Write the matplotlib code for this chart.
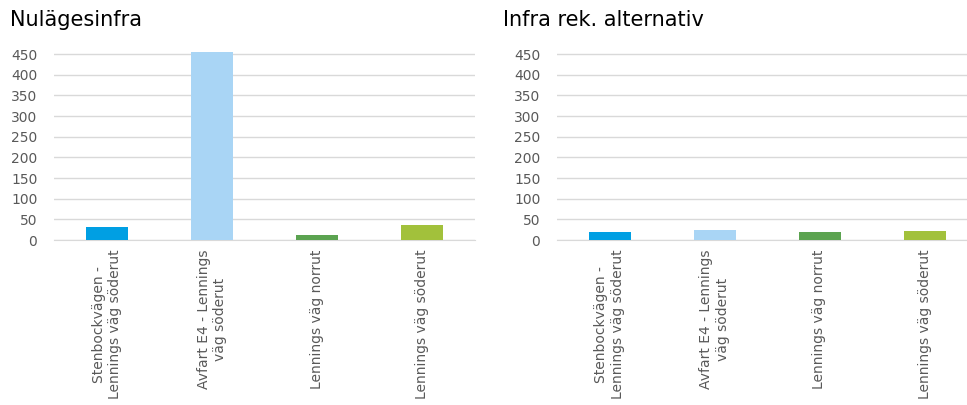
import matplotlib
matplotlib.use("Agg")
import matplotlib.pyplot as plt
import numpy as np

plt.rcParams['font.family'] = ['DejaVu Sans']

categories = [
    "Stenbockvägen -\nLennings väg söderut",
    "Avfart E4 - Lennings\nväg söderut",
    "Lennings väg norrut",
    "Lennings väg söderut",
]
nulage_values = [31, 456, 11, 37]
rek_values = [19, 23, 19, 21]
bar_colors = ["#009FE3", "#A9D5F5", "#5BA350", "#A2C13B"]
y_ticks = [0, 50, 100, 150, 200, 250, 300, 350, 400, 450]
y_max = 462

fig = plt.figure(figsize=(9.67, 4.05), dpi=100)
W, H = 967, 405
px_per_unit = 186 / 450

def make_axes(x0, x1, y_bot):
    y_top = y_bot - y_max * px_per_unit
    return fig.add_axes([x0 / W, 1 - y_bot / H, (x1 - x0) / W, (y_bot - y_top) / H])

panels = [
    (make_axes(54, 475, 240), "Nulägesinfra", nulage_values, 10),
    (make_axes(557, 977, 240), "Infra rek. alternativ", rek_values, 503),
]

for ax, title, vals, title_x in panels:
    x = np.arange(len(categories))
    ax.bar(x, vals, width=0.4, color=bar_colors, zorder=3)
    ax.set_xlim(-0.5, len(categories) - 0.5)
    ax.set_ylim(0, y_max)
    ax.set_yticks(y_ticks)
    ax.yaxis.grid(True, color="#D9D9D9", linewidth=1, zorder=0)
    for s in ["top", "right", "left"]:
        ax.spines[s].set_visible(False)
    ax.spines["bottom"].set_color("#D9D9D9")
    ax.tick_params(axis="both", length=0, colors="#595959", labelsize=10)
    ax.tick_params(axis="y", pad=12)
    ax.set_xticks(x)
    ax.set_xticklabels(categories, rotation=90, ha="center", va="top",
                       multialignment="center", color="#595959")
    ax.tick_params(axis="x", pad=7)
    fig.text(title_x / W, 1 - 20 / H, title, fontsize=15, color="#000000",
             ha="left", va="center")

fig.savefig("out.png", dpi=100)
